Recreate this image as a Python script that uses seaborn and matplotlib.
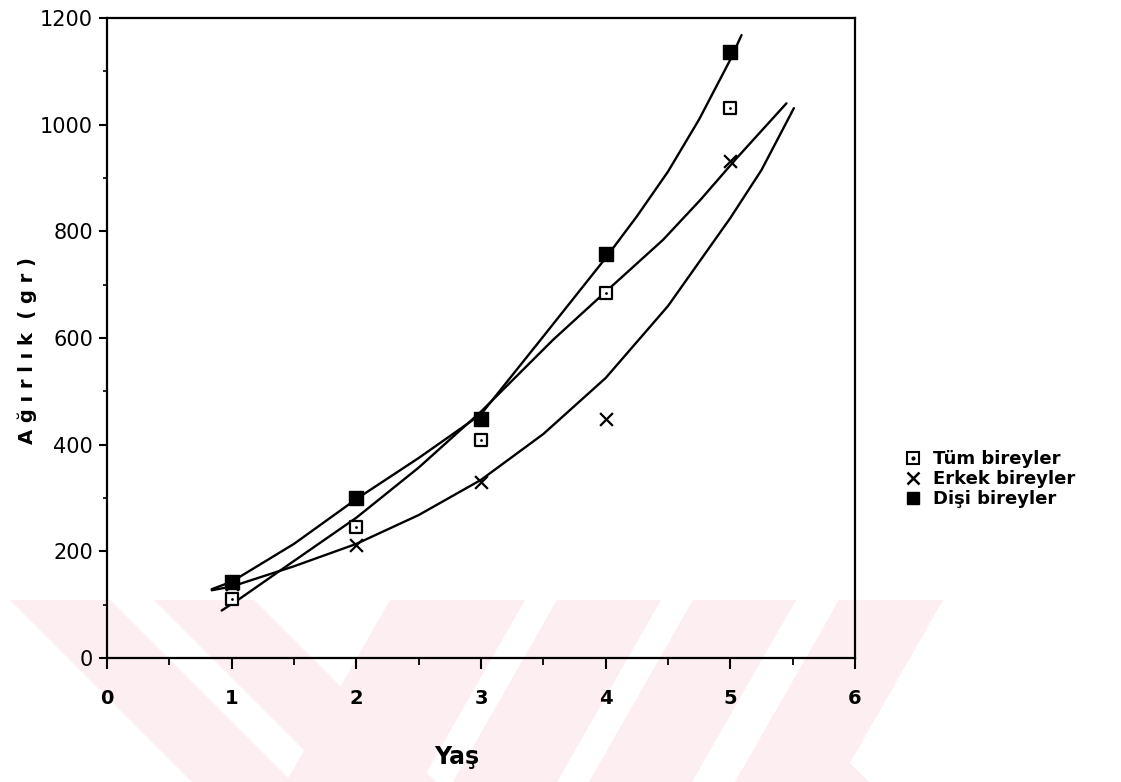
import numpy as np
import pandas as pd
import matplotlib
matplotlib.use("Agg")
import matplotlib.pyplot as plt
from matplotlib.lines import Line2D
from matplotlib.patches import Polygon
import seaborn as sns

# ---------------- data ----------------
ages = [1, 2, 3, 4, 5]
tum_w = [111, 245, 408, 685, 1031]      # Tüm bireyler (open squares)
erkek_w = [138, 211, 330, 448, 932]     # Erkek bireyler (x)
disi_w = [143, 300, 449, 757, 1137]     # Dişi bireyler (filled squares)

# fitted growth curves as drawn in the reference
disi_curve_x = [0.84, 1.0, 1.5, 2.0, 2.5, 3.0, 3.5, 4.0, 4.25, 4.5, 4.75, 5.0, 5.09]
disi_curve_y = [129, 143, 214, 298, 375, 457, 603, 750, 828, 912, 1010, 1122, 1168]
tum_curve_x = [0.92, 1.07, 1.5, 2.0, 2.5, 3.0, 3.58, 4.03, 4.46, 4.76, 5.05, 5.45]
tum_curve_y = [89, 112, 182, 263, 357, 462, 597, 693, 784, 859, 937, 1040]
erkek_curve_x = [0.84, 1.0, 1.5, 2.0, 2.5, 3.0, 3.5, 4.0, 4.5, 5.0, 5.25, 5.51]
erkek_curve_y = [127, 134, 172, 214, 268, 334, 420, 525, 660, 825, 915, 1031]

series_names = ["Tüm bireyler", "Erkek bireyler", "Dişi bireyler"]
x_ticks = [0, 1, 2, 3, 4, 5, 6]
y_ticks = [0, 200, 400, 600, 800, 1000, 1200]
x_label = "Yaş"
y_label = "A ğ ı r l ı k  ( g r )"

# ---------------- style ----------------
sns.set_theme(style="ticks")
plt.rcParams["font.family"] = ["DejaVu Sans"]
plt.rcParams["text.color"] = "black"
plt.rcParams["axes.labelcolor"] = "black"
plt.rcParams["xtick.color"] = "black"
plt.rcParams["ytick.color"] = "black"

W, H = 1121, 782
fig = plt.figure(figsize=(W / 100, H / 100), dpi=100)
fig.patch.set_facecolor("white")
ax = fig.add_axes([107 / W, 1 - 658 / H, 748 / W, 640 / H])
ax.set_facecolor("none")

# faint watermark stripes (figure background)
pink = "#fdeef1"
stripes_px = [
    [(10, 600), (110, 600), (292, 782), (192, 782)],
    [(154, 600), (254, 600), (436, 782), (336, 782)],
    [(390, 600), (525, 600), (421, 782), (286, 782)],
    [(557, 600), (661, 600), (557, 782), (453, 782)],
    [(693, 600), (796, 600), (692, 782), (589, 782)],
    [(839, 600), (943, 600), (839, 782), (735, 782)],
    [(800, 745), (832, 745), (869, 782), (830, 782)],
]
for poly in stripes_px:
    pts = [(px / W, 1 - py / H) for px, py in poly]
    fig.patches.append(Polygon(pts, closed=True, transform=fig.transFigure,
                               facecolor=pink, edgecolor="none", zorder=-1))

# ---------------- curves ----------------
curves = pd.concat([
    pd.DataFrame({"x": tum_curve_x, "y": tum_curve_y, "s": series_names[0]}),
    pd.DataFrame({"x": erkek_curve_x, "y": erkek_curve_y, "s": series_names[1]}),
    pd.DataFrame({"x": disi_curve_x, "y": disi_curve_y, "s": series_names[2]}),
])
sns.lineplot(data=curves, x="x", y="y", hue="s", units="s", estimator=None,
             palette={n: "black" for n in series_names}, sort=False,
             linewidth=1.7, legend=False, ax=ax, zorder=2)

# ---------------- points ----------------
pts = pd.DataFrame({"age": ages, "tum": tum_w, "erkek": erkek_w, "disi": disi_w})
sns.scatterplot(data=pts, x="age", y="erkek", marker="x", s=85, color="black",
                linewidth=1.6, ax=ax, zorder=3)
sns.scatterplot(data=pts, x="age", y="tum", marker="s", s=75, facecolor="white",
                edgecolor="black", linewidth=1.6, ax=ax, zorder=4)
sns.scatterplot(data=pts, x="age", y="tum", marker="o", s=4, color="black",
                linewidth=0, ax=ax, zorder=5)
sns.scatterplot(data=pts, x="age", y="disi", marker="s", s=90, color="black",
                edgecolor="black", linewidth=1, ax=ax, zorder=6)

# ---------------- axes ----------------
ax.set_xlim(0, 6)
ax.set_ylim(0, 1200)
ax.set_xticks(x_ticks)
ax.set_yticks(y_ticks)
ax.set_xticks(np.arange(0.5, 6, 1.0), minor=True)
ax.set_yticks(np.arange(100, 1200, 200), minor=True)
ax.set_xticklabels([str(t) for t in x_ticks], fontsize=14, fontweight="bold")
ax.set_yticklabels([str(t) for t in y_ticks], fontsize=15)
ax.tick_params(axis="x", which="major", direction="out", length=8, width=1.5,
               pad=14, colors="black")
ax.tick_params(axis="x", which="minor", direction="out", length=5, width=1.3)
ax.tick_params(axis="y", which="major", direction="out", length=6, width=1.5,
               pad=4, colors="black")
ax.tick_params(axis="y", which="minor", direction="out", length=3, width=1.2)
for sp in ax.spines.values():
    sp.set_visible(True)
    sp.set_linewidth(1.6)
    sp.set_color("black")

ax.set_xlabel(x_label, fontsize=17, fontweight="heavy", color="black")
ax.set_ylabel(y_label, fontsize=14, fontweight="heavy", color="black")
ax.xaxis.set_label_coords(0.468, -0.136)
ax.yaxis.set_label_coords(-0.094, 0.48)

# ---------------- legend ----------------
h_tum = (Line2D([], [], ls="none", marker="s", ms=8, mfc="white", mec="black", mew=1.5),
         Line2D([], [], ls="none", marker="o", ms=2, mfc="black", mec="black"))
h_erk = Line2D([], [], ls="none", marker="x", ms=8, color="black", mew=1.8)
h_dis = Line2D([], [], ls="none", marker="s", ms=8, mfc="black", mec="black")
leg = fig.legend([h_tum, h_erk, h_dis], series_names, loc="upper left",
                 bbox_to_anchor=(904 / W, 1 - 450 / H), frameon=False,
                 prop={"size": 13, "weight": "bold"}, borderpad=0, handlelength=1.0,
                 handletextpad=0.6, labelspacing=0.12, borderaxespad=0)
for t in leg.get_texts():
    t.set_color("black")

fig.savefig("out.png", dpi=100, facecolor="white")
